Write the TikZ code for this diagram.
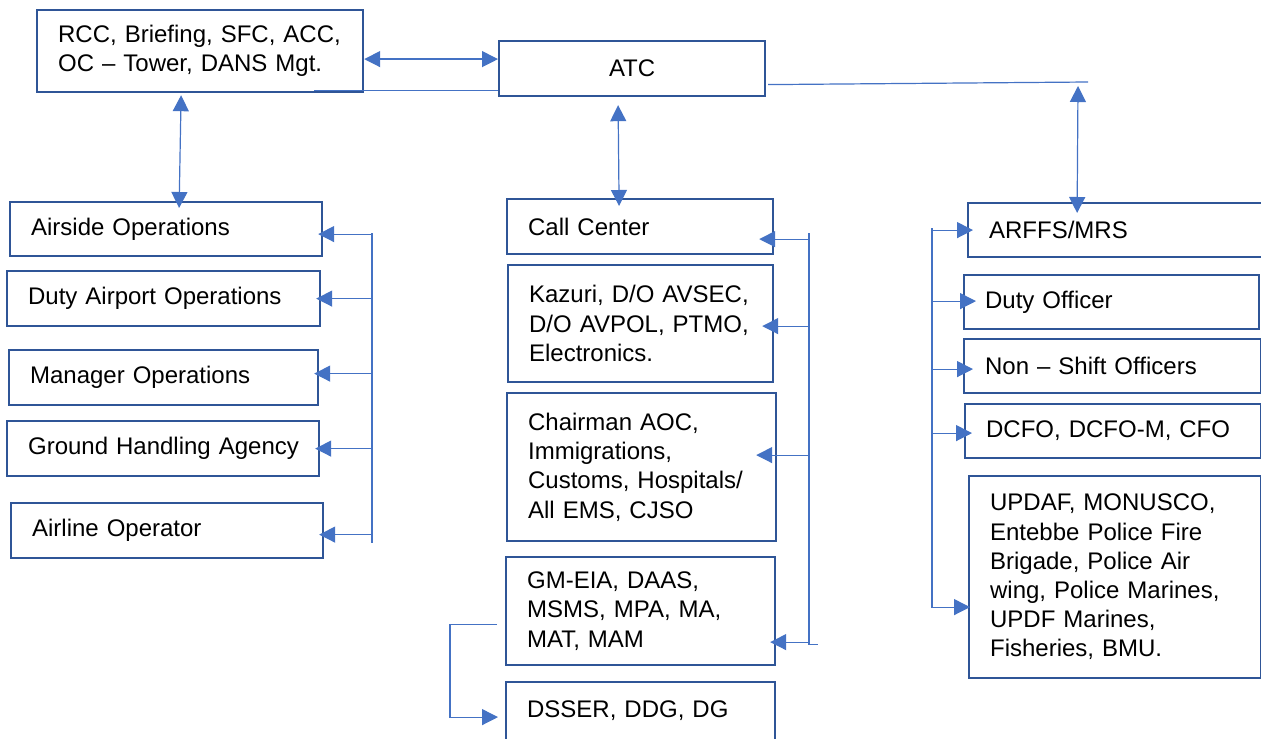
\documentclass[tikz,border=0pt]{standalone}
\usepackage{fontspec}
\setmainfont{Liberation Sans}
\usepackage{xcolor}
\usetikzlibrary{arrows.meta,calc}
\definecolor{boxblue}{HTML}{2F5597}
\definecolor{linkblue}{HTML}{4472C4}

\begin{document}
\begin{tikzpicture}[x=0.5pt,y=-0.5pt,
	unit/.style={draw=boxblue,line width=1.1pt,fill=white,anchor=north west,
		inner xsep=10.5pt,inner ysep=0pt,align=left,
		font=\fontsize{12}{14.6}\selectfont},
	link/.style={draw=linkblue,line width=0.6pt},
	one/.style={link,-{Triangle[length=8pt,width=8pt]}},
	dbl/.style={link,{Triangle[length=8pt,width=8pt]}-{Triangle[length=8pt,width=8pt]}}]
		\useasboundingbox (0,0) rectangle (1261,738);
		% 上方两个框
		\node[unit,text width=142pt,minimum height=41pt] (rcc) at (36,9) {RCC, Briefing, SFC, ACC,\\OC -- Tower, DANS Mgt.};
		\node[unit,text width=112pt,minimum height=27.5pt,align=center] (atc) at (498,40) {ATC};
		% 左列
		\node[unit,text width=135pt,minimum height=27pt] (air) at (9,201) {Airside Operations};
		\node[unit,text width=135.5pt,minimum height=27.5pt] (dao) at (6,270) {Duty Airport Operations};
		\node[unit,text width=133.5pt,minimum height=27.5pt] (mgr) at (8,349) {Manager Operations};
		\node[unit,text width=135pt,minimum height=27.5pt] (gha) at (6,420) {\mbox{Ground Handling Agency}};
		\node[unit,text width=135pt,minimum height=27.5pt] (alo) at (10,502) {Airline Operator};
		% 中列
		\node[unit,text width=112pt,minimum height=27.5pt] (cc) at (506,198) {Call Center};
		\node[unit,text width=111.5pt,minimum height=58.5pt] (kaz) at (507,264) {Kazuri, D/O AVSEC,\\D/O AVPOL, PTMO,\\Electronics.};
		\node[unit,text width=113.5pt,minimum height=74pt] (chm) at (506,392) {Chairman AOC,\\Immigrations,\\Customs, Hospitals/\\All EMS, CJSO};
		\node[unit,text width=113.5pt,minimum height=54pt] (gm) at (505,556) {GM-EIA, DAAS,\\MSMS, MPA, MA,\\MAT, MAM};
		\node[unit,text width=113.5pt,minimum height=29pt] (dss) at (505,681) {DSSER, DDG, DG};
		% 右列
		\node[unit,text width=127pt,minimum height=27pt] (arf) at (967,202) {ARFFS/MRS};
		\node[unit,text width=126.5pt,minimum height=27pt] (dof) at (963,274) {Duty Officer};
		\node[unit,text width=127.5pt,minimum height=27pt] (nso) at (963,338) {Non -- Shift Officers};
		\node[unit,text width=127pt,minimum height=27pt] (dcf) at (964,403) {DCFO, DCFO-M, CFO};
		\node[unit,text width=125pt,minimum height=101pt] (upd) at (968,475) {UPDAF, MONUSCO,\\Entebbe Police Fire\\Brigade, Police Air\\wing, Police Marines,\\UPDF Marines,\\Fisheries, BMU.};
		% 上方连线
		\draw[dbl] ([yshift=-4pt]rcc.east) -- ([yshift=-4pt]rcc.east -| atc.west);
		\draw[link] ([shift={(-25pt,1.5pt)}]rcc.south east) -- ([yshift=1.5pt]rcc.south east -| atc.west);
		\draw[dbl] ([shift={(-9.5pt,-1pt)}]rcc.south) -- ([shift={(6.5pt,-3.5pt)}]air.north);
		\draw[dbl] ([shift={(-7pt,-4pt)}]atc.south) -- ([shift={(-10.5pt,-4pt)}]cc.north);
		\coordinate (tap) at (1088,82);
		\draw[link] ([shift={(1pt,-8pt)}]atc.east) -- (tap);
		\draw[dbl] ([shift={(-5pt,-2pt)}]tap) -- ([shift={(-19.5pt,-5.5pt)}]arf.north);
		% 左侧分支
		\coordinate (lbar) at (372,0);
		\draw[link] ([yshift=-2pt]lbar |- air.east) -- ([yshift=-6pt]lbar |- alo.east);
		\foreach \n/\dy in {air/-2.5,dao/0,mgr/2,gha/0,alo/-2}
			\draw[one] ([yshift=\dy pt]lbar |- \n.east) -- ([shift={(-2.5pt,\dy pt)}]\n.east);
		% 中间分支
		\coordinate (mbar) at (809,0);
		\draw[link] ([yshift=-3.25pt]mbar |- cc.east) -- ([yshift=-16.5pt]mbar |- gm.east) -- ++(9,0);
		\foreach \n/\dy/\dx in {cc/-6.25/-7.5,kaz/-1.25/-6,chm/6/-10.5,gm/-15.5/-3}
			\draw[one] ([yshift=\dy pt]mbar |- \n.east) -- ([shift={(\dx pt,\dy pt)}]\n.east);
		\coordinate (gbend) at (450,0);
		\draw[one] ([shift={(-4pt,-6.5pt)}]gm.west) coordinate (g1) -- (gbend |- g1) |- ([shift={(-3.5pt,-3pt)}]dss.west);
		% 右侧分支
		\coordinate (rbar) at (932,0);
		\draw[link] ([yshift=1pt]rbar |- arf.west) -- ([yshift=-15.5pt]rbar |- upd.west);
		\foreach \n/\dy/\dx in {arf/0/3,dof/0.5/6.5,nso/-1.5/5,dcf/-1/4,upd/-15/1}
			\draw[one] ([yshift=\dy pt]rbar |- \n.west) -- ([shift={(\dx pt,\dy pt)}]\n.west);
	\end{tikzpicture}
\end{document}
